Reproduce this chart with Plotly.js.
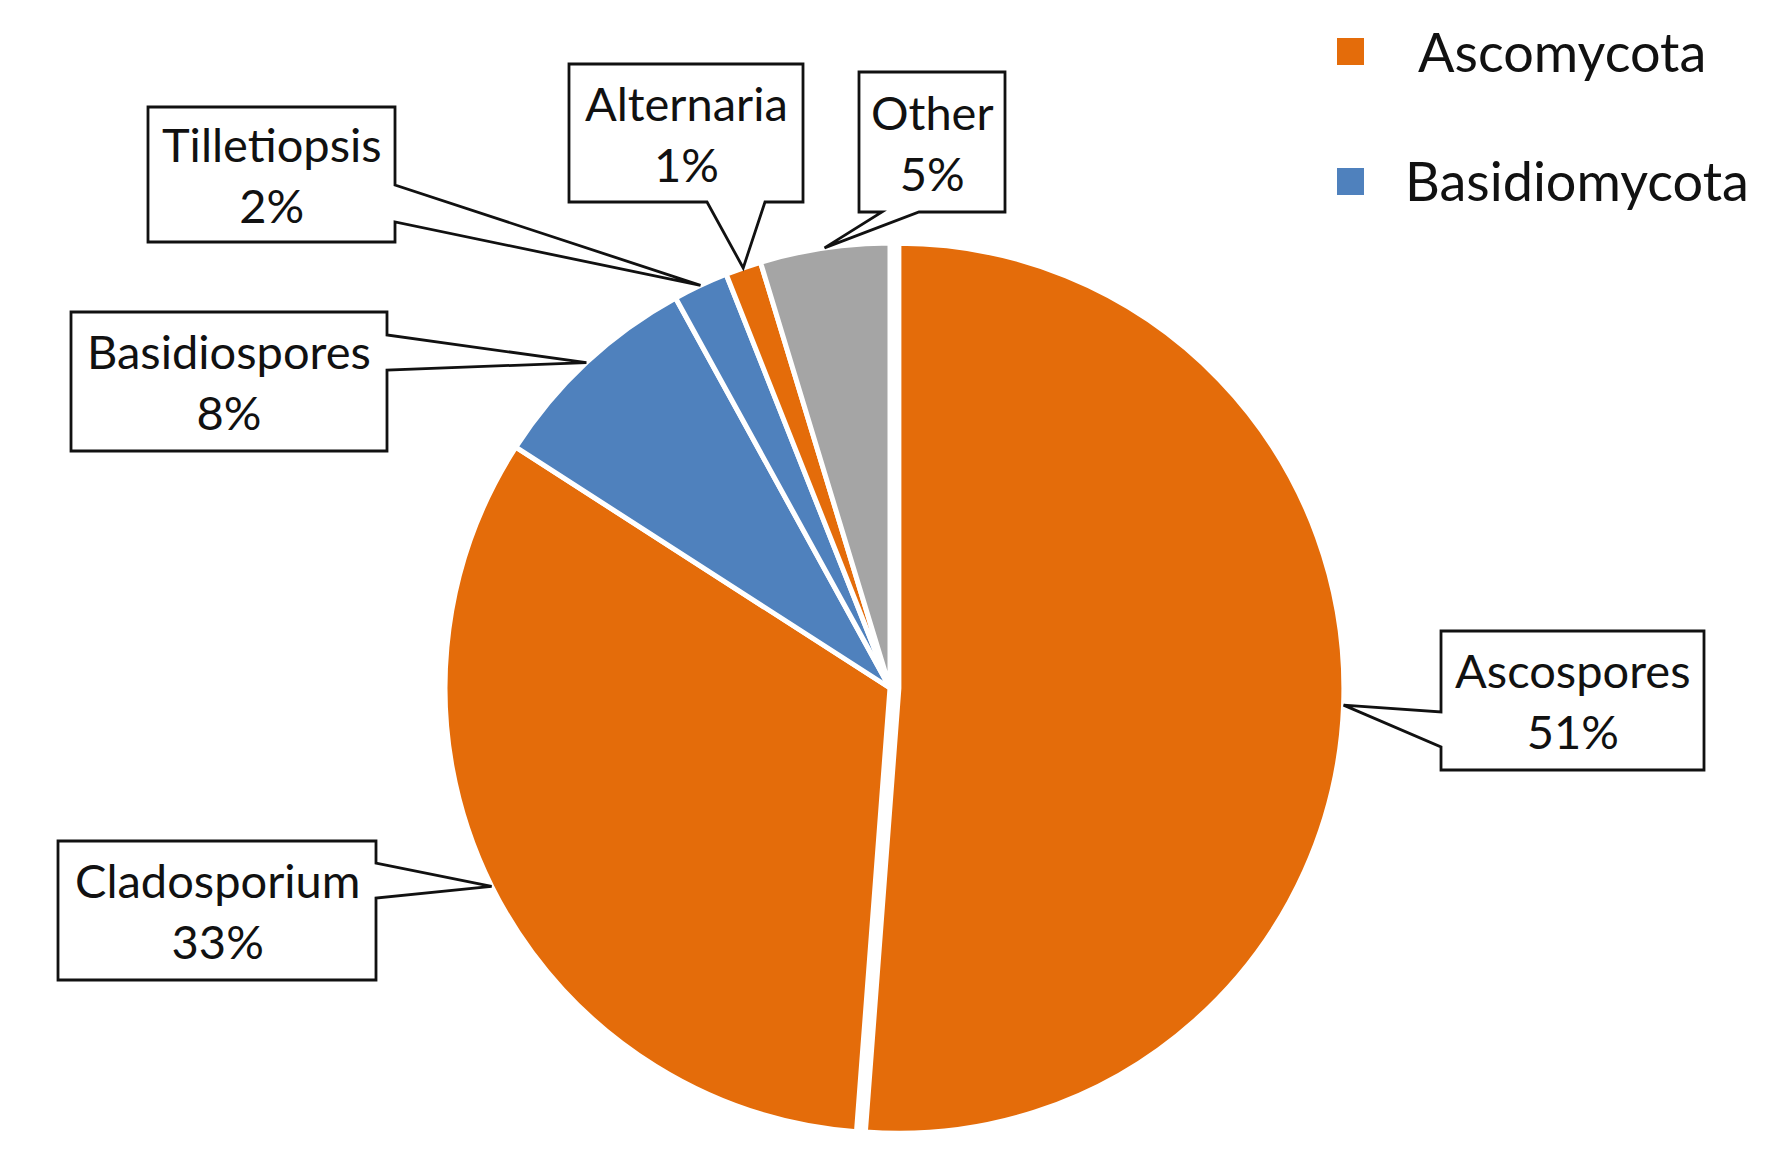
<!DOCTYPE html>
<html><head><meta charset="utf-8">
<script src="https://cdn.plot.ly/plotly-3.0.1.min.js"></script>
<style>html,body{margin:0;padding:0;background:#fff}</style>
</head><body><div id="chart" style="width:1768px;height:1166px"></div>
<script>
// ---- data ----
const labels = ['Ascospores', 'Cladosporium', 'Basidiospores', 'Tilletiopsis', 'Alternaria', 'Other'];
const values = [51.2, 32.9, 7.9, 2.0, 1.3, 4.7];
const phylum = ['Ascomycota', 'Ascomycota', 'Basidiomycota', 'Basidiomycota', 'Ascomycota', 'Other'];
const legendGroups = ['Ascomycota', 'Basidiomycota'];
const groupColors = {Ascomycota: '#E46C0A', Basidiomycota: '#4F81BD', Other: '#A5A5A5'};
const pulls = [0.02, 0, 0, 0, 0, 0];

// ---- layout constants (pixels) ----
const W = 1768, H = 1166;
const PIE_CX = 890, PIE_CY = 688, PIE_R = 445;
const FONT = 'Lato, "Open Sans", "Noto Sans", sans-serif';

// callout boxes: [left, top, right, bottom], side of the wedge, wedge base (two coords along that side)
const callouts = {
  'Ascospores':    {box: [1441, 631, 1704, 770], side: 'left',   base: [712, 747]},
  'Cladosporium':  {box: [58, 841, 376, 980],    side: 'right',  base: [863, 898]},
  'Basidiospores': {box: [71, 312, 387, 451],    side: 'right',  base: [335, 370]},
  'Tilletiopsis':  {box: [148, 107, 395, 242],   side: 'right',  base: [185, 222]},
  'Alternaria':    {box: [569, 64, 803, 202],    side: 'bottom', base: [707, 765]},
  'Other':         {box: [859, 72, 1005, 212],   side: 'bottom', base: [882, 919]}
};

const px = x => x / W;
const py = y => 1 - y / H;

const maxPull = Math.max(...pulls);
const half = PIE_R * (1 + maxPull);
const total = values.reduce((a, b) => a + b, 0);

const pieTrace = {
  type: 'pie',
  labels: labels,
  values: values,
  sort: false,
  direction: 'clockwise',
  rotation: 0,
  pull: pulls,
  textinfo: 'none',
  hoverinfo: 'label+percent',
  showlegend: false,
  marker: {colors: phylum.map(p => groupColors[p]), line: {color: '#ffffff', width: 5}},
  domain: {x: [px(PIE_CX - half), px(PIE_CX + half)], y: [py(PIE_CY + half), py(PIE_CY - half)]}
};

const shapes = [];
const annotations = [];
let cum = 0;
labels.forEach((lab, i) => {
  const frac = (cum + values[i] / 2) / total;
  cum += values[i];
  const th = 2 * Math.PI * frac;
  const R = PIE_R * (1 + pulls[i]);
  const tx = PIE_CX + R * Math.sin(th);
  const ty = PIE_CY - R * Math.cos(th);
  const c = callouts[lab];
  const [l, t, r, b] = c.box;
  let pts;
  if (c.side === 'right') {
    pts = [[l, t], [r, t], [r, c.base[0]], [tx, ty], [r, c.base[1]], [r, b], [l, b]];
  } else if (c.side === 'left') {
    pts = [[l, t], [r, t], [r, b], [l, b], [l, c.base[1]], [tx, ty], [l, c.base[0]]];
  } else { // bottom
    pts = [[l, t], [r, t], [r, b], [c.base[1], b], [tx, ty], [c.base[0], b], [l, b]];
  }
  const path = 'M' + pts.map(p => px(p[0]).toFixed(5) + ',' + py(p[1]).toFixed(5)).join(' L') + ' Z';
  shapes.push({type: 'path', xref: 'paper', yref: 'paper', path: path, fillcolor: '#ffffff',
               line: {color: '#111111', width: 2.8}, layer: 'above'});
  const pct = Math.round(values[i] / total * 100) + '%';
  annotations.push({xref: 'paper', yref: 'paper', x: px((l + r) / 2), y: py((t + b) / 2),
    xanchor: 'center', yanchor: 'middle', showarrow: false, align: 'center',
    text: lab + '<br>' + pct, font: {family: FONT, size: 47, color: '#111111'}});
});

// legend drawn manually
const legendPos = [{sq: [1337, 38, 1364, 65], tx: 1416, ty: 51}, {sq: [1337, 168, 1364, 195], tx: 1403, ty: 181}];
legendGroups.forEach((g, i) => {
  const p = legendPos[i];
  shapes.push({type: 'rect', xref: 'paper', yref: 'paper', x0: px(p.sq[0]), x1: px(p.sq[2]),
    y0: py(p.sq[3]), y1: py(p.sq[1]), fillcolor: groupColors[g], line: {width: 0}});
  annotations.push({xref: 'paper', yref: 'paper', x: px(p.tx), y: py(p.ty), xanchor: 'left', yanchor: 'middle',
    showarrow: false, text: g, font: {family: FONT, size: 54, color: '#111111'}});
});

const layout = {
  width: W, height: H,
  margin: {l: 0, r: 0, t: 0, b: 0},
  paper_bgcolor: '#ffffff', plot_bgcolor: '#ffffff',
  showlegend: false,
  shapes: shapes,
  annotations: annotations,
  font: {family: FONT}
};

Plotly.newPlot('chart', [pieTrace], layout, {displayModeBar: false, staticPlot: true});
</script>
</body></html>
